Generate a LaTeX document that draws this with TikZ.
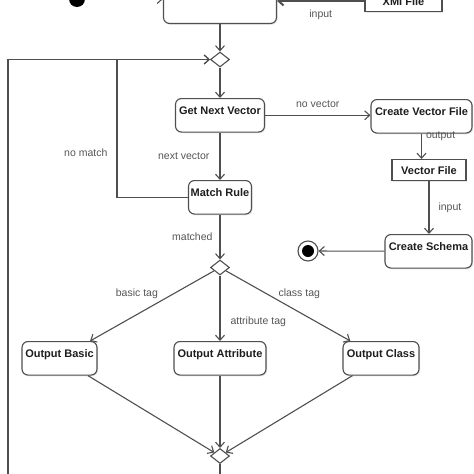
\documentclass[tikz,border=0pt]{standalone}
\usepackage{fontspec}
\setmainfont{Liberation Sans}
\usetikzlibrary{arrows.meta,shapes.geometric,shadows}
\definecolor{linegray}{HTML}{4F4F4F}
\definecolor{labelgray}{HTML}{555555}
\definecolor{textdark}{HTML}{1E1E1E}

\begin{document}
\begin{tikzpicture}[x=1pt, y=-1pt, > = {Straight Barb[length=5pt,width=9pt]},
    action/.style = {draw=linegray, line width=1.1pt, rounded corners=6pt, fill=white,
      drop shadow={shadow xshift=1.2pt, shadow yshift=-1.2pt, opacity=0.2},
      font=\bfseries\fontsize{11}{13}\selectfont, text=textdark,
      inner xsep=0pt, inner ysep=0pt, text height=15.5pt, text depth=18pt},
    artifact/.style = {action, rounded corners=0pt, text height=15pt, text depth=6pt},
    branch/.style = {diamond, draw=linegray, line width=1.1pt, fill=white,
      minimum width=19pt, minimum height=15pt, inner sep=0pt},
    flow/.style = {draw=linegray, line width=1.1pt, ->},
    guard/.style = {font=\fontsize{10.5}{12}\selectfont, text=labelgray, inner sep=1pt}]

    \useasboundingbox (0,0) rectangle (474,474);
    \clip (0,0) rectangle (474,474);

    % start and input file
    \node[circle, fill=black, minimum size=16pt, inner sep=0pt] (init) at (77,-1) {};
    \node[action, minimum width=113pt, anchor=south] (parse) at (220,24) {};
    \node[artifact, minimum width=77pt, anchor=south] (xmi) at (403.5,12) {XMI File};

    % main loop
    \node[branch] (d1) at (220,59.5) {};
    \node[action, minimum width=89pt, anchor=north] (next) at (220,98) {Get Next Vector};
    \node[action, minimum width=63pt, anchor=north] (match) at (220,180) {Match Rule};
    \node[branch] (d2) at (220,267.5) {};

    % vector file branch
    \node[action, minimum width=101pt, anchor=north] (create) at (421.5,99) {Create Vector File};
    \node[artifact, minimum width=74pt, anchor=north] (vecfile) at (429,159) {Vector File};
    \node[action, minimum width=87pt, anchor=north] (schema) at (428.5,234) {Create Schema};
    \node[circle, draw=linegray, line width=1.1pt, fill=white, minimum size=20pt, inner sep=0pt] (final) at (308,251) {};
    \fill[black] (final) circle (6pt);

    % output tags
    \node[action, minimum width=75pt, anchor=north] (basic) at (59.5,341) {Output Basic};
    \node[action, minimum width=92pt, anchor=north] (attr) at (220,341) {Output Attribute};
    \node[action, minimum width=76pt, anchor=north] (class) at (381,341) {Output Class};
    \node[branch] (d3) at (220,456) {};

    % flows
    \draw[flow] (init) -- (init -| parse.west);
    \draw[flow, line width=2pt] (xmi) -- node[guard, below=7pt] {input} (xmi -| parse.east);
    \draw[flow] (parse) -- (d1);
    \draw[flow] (d1) -- (next);
    \draw[flow] (next) -- node[guard, above=6pt] {no vector} (next -| create.west);
    \draw[flow] (create.south) -- node[guard, pos=0.12, right=3pt] {output} (create.south |- vecfile.north);
    \draw[flow] (vecfile) -- node[guard, right=8pt] {input} (vecfile |- schema.north);
    \draw[flow] (schema) -- (final);
    \draw[flow] (next) -- node[guard, left=9pt] {next vector} (match);
    \draw[flow] (match.west) -- ++(-71,0) |- node[guard, pos=0.16, left=8pt] {no match} (d1.west);
    \draw[flow] (match) -- node[guard, left=6pt] {matched} (d2);
    \draw[flow] (d2) -- node[guard, pos=0.32, left=15pt] {basic tag} (basic);
    \draw[flow] (d2) -- node[guard, pos=0.7, right=9pt] {attribute tag} (attr);
    \draw[flow] (d2) -- node[guard, pos=0.33, right=10pt] {class tag} (class);
    \draw[flow] (basic) -- (d3);
    \draw[flow] (attr) -- (d3);
    \draw[flow] (class) -- (d3);
    \draw[flow] (d3) -- ++(0,30) -| (8,59.5) -- (d1.west);

\end{tikzpicture}
\end{document}
